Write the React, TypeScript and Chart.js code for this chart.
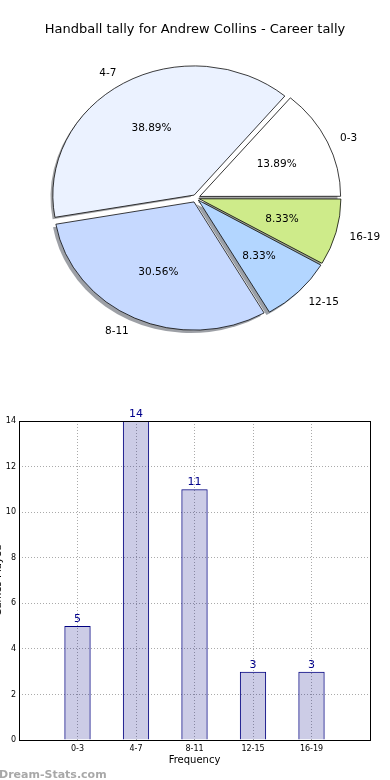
import React, { useEffect, useRef } from 'react';
import { Chart, registerables } from 'chart.js';

Chart.register(...registerables);

// ---- data ----
const categories = ['0-3', '4-7', '8-11', '12-15', '16-19'];
const tallies = [5, 14, 11, 3, 3];
const pieColors = ['#ffffff', '#ebf2ff', '#c6d9ff', '#b3d6ff', '#ceeb8a'];
const yTickMax = 14;
const yTickStep = 2;
const titleText = 'Handball tally for Andrew Collins - Career tally';
const xTitle = 'Frequency';
const yTitle = 'Games Played';
const watermark = 'Dream-Stats.com';

const FONT = '"DejaVu Sans", "Liberation Sans", sans-serif';
const SY = 0.914; // vertical squash of the pie (matplotlib axes aspect)
const EXPLODE = 5; // px
const PIE_R = 140;

function hexToRgb(h: string) {
  const n = parseInt(h.slice(1), 16);
  return [(n >> 16) & 255, (n >> 8) & 255, n & 255];
}

function PieChart() {
  const ref = useRef<HTMLCanvasElement | null>(null);
  useEffect(() => {
    if (!ref.current) return;
    const total = tallies.reduce((a, b) => a + b, 0);
    // Chart.js goes clockwise, matplotlib counter-clockwise -> reverse order
    const order = categories.map((_, i) => categories.length - 1 - i);
    const vals = order.map((i) => tallies[i]);
    const cols = order.map((i) => pieColors[i]);
    const labs = order.map((i) => categories[i]);
    const offsets = vals.map((v) => {
      const circ = (v / total) * Math.PI * 2;
      const fix = 1 - Math.sin(Math.min(Math.PI, circ));
      return (4 * EXPLODE) / (1 + fix);
    });

    const squash = (ctx: CanvasRenderingContext2D, x: number, y: number) => {
      ctx.translate(x, y);
      ctx.scale(1, SY);
      ctx.translate(-x, -y);
    };

    const pieFx = {
      id: 'pieFx',
      beforeDatasetsDraw(chart: any) {
        const ctx = chart.ctx as CanvasRenderingContext2D;
        const els = chart.getDatasetMeta(0).data;
        const cx = els[0].x;
        const cy = els[0].y;
        // shadows
        ctx.save();
        ctx.translate(-3, 3);
        squash(ctx, cx, cy);
        els.forEach((el: any, i: number) => {
          const mid = (el.startAngle + el.endAngle) / 2;
          const ox = cx + Math.cos(mid) * EXPLODE;
          const oy = cy + Math.sin(mid) * EXPLODE;
          const [r, g, b] = hexToRgb(cols[i]);
          ctx.fillStyle = `rgba(${Math.round(r * 0.3)},${Math.round(g * 0.3)},${Math.round(b * 0.3)},0.5)`;
          ctx.beginPath();
          ctx.moveTo(ox, oy);
          ctx.arc(ox, oy, el.outerRadius, el.startAngle, el.endAngle);
          ctx.closePath();
          ctx.fill();
        });
        ctx.restore();
        ctx.save();
        squash(ctx, cx, cy);
      },
      afterDatasetsDraw(chart: any) {
        chart.ctx.restore();
      },
      afterDraw(chart: any) {
        const ctx = chart.ctx as CanvasRenderingContext2D;
        const els = chart.getDatasetMeta(0).data;
        ctx.save();
        ctx.fillStyle = '#000';
        ctx.font = `13px ${FONT}`;
        ctx.textAlign = 'center';
        ctx.textBaseline = 'middle';
        ctx.fillText(titleText, 195, 30);
        ctx.font = `10.5px ${FONT}`;
        els.forEach((el: any, i: number) => {
          const mid = (el.startAngle + el.endAngle) / 2;
          const c = Math.cos(mid);
          const s = Math.sin(mid);
          const R = el.outerRadius;
          const lx = el.x + c * (EXPLODE + 1.1 * R);
          const ly = el.y + s * (EXPLODE + 1.1 * R) * SY + 1.5;
          ctx.textAlign = c > 0 ? 'left' : 'right';
          ctx.fillText(labs[i], lx, ly);
          const px = el.x + c * (EXPLODE + 0.6 * R);
          const py = el.y + s * (EXPLODE + 0.6 * R) * SY + 0.5;
          ctx.textAlign = 'center';
          ctx.fillText(((vals[i] / total) * 100).toFixed(2) + '%', px, py);
        });
        ctx.restore();
      },
    };

    const chart = new Chart(ref.current, {
      type: 'pie',
      data: {
        labels: labs,
        datasets: [
          {
            data: vals,
            backgroundColor: cols,
            borderColor: '#000',
            borderWidth: 0.8,
            offset: offsets,
            hoverOffset: 0,
            radius: PIE_R,
          } as any,
        ],
      },
      options: {
        animation: false,
        responsive: false,
        devicePixelRatio: 1,
        events: [],
        rotation: 90,
        layout: { padding: { left: 2, top: 6, right: 0, bottom: 0 } },
        plugins: { legend: { display: false }, tooltip: { enabled: false } },
      } as any,
      plugins: [pieFx],
    });
    return () => chart.destroy();
  }, []);
  return <canvas ref={ref} width={390} height={390} style={{ position: 'absolute', left: 0, top: 0 }} />;
}

function BarChart() {
  const ref = useRef<HTMLCanvasElement | null>(null);
  useEffect(() => {
    if (!ref.current) return;
    const barFx = {
      id: 'barFx',
      afterDraw(chart: any) {
        const ctx = chart.ctx as CanvasRenderingContext2D;
        const { left, right, top, bottom } = chart.chartArea;
        ctx.save();
        ctx.strokeStyle = '#000';
        ctx.lineWidth = 1;
        ctx.strokeRect(left + 0.5, top + 0.5, right - left, bottom - top);
        // value labels
        ctx.fillStyle = '#00008b';
        ctx.font = `11px ${FONT}`;
        ctx.textAlign = 'center';
        ctx.textBaseline = 'alphabetic';
        chart.getDatasetMeta(0).data.forEach((el: any, i: number) => {
          ctx.fillText(String(tallies[i]), el.x, el.y - 4);
        });
        // x title
        ctx.fillStyle = '#000';
        ctx.font = `10px ${FONT}`;
        ctx.textBaseline = 'middle';
        ctx.fillText(xTitle, (left + right) / 2, 370);
        // y title (mostly cut by the canvas edge)
        ctx.save();
        ctx.translate(1, (top + bottom) / 2);
        ctx.rotate(-Math.PI / 2);
        ctx.textBaseline = 'alphabetic';
        ctx.fillText(yTitle, 0, 0);
        ctx.restore();
        // watermark
        ctx.fillStyle = '#a8a8a8';
        ctx.font = `bold 11px ${FONT}`;
        ctx.textAlign = 'left';
        ctx.fillText(watermark, -1, 385);
        ctx.restore();
      },
    };

    const chart = new Chart(ref.current, {
      type: 'bar',
      data: {
        datasets: [
          {
            data: categories.map((_, i) => ({ x: i, y: tallies[i] })),
            backgroundColor: 'rgba(0,0,128,0.2)',
            borderColor: '#000080',
            borderWidth: 1,
            barPercentage: 0.45,
            categoryPercentage: 1,
          },
        ],
      },
      options: {
        animation: false,
        responsive: false,
        devicePixelRatio: 1,
        events: [],
        layout: { padding: { top: 31, right: 20, left: 0, bottom: 0 } },
        plugins: { legend: { display: false }, tooltip: { enabled: false } },
        scales: {
          x: {
            type: 'linear',
            min: -1,
            max: categories.length,
            offset: false,
            afterFit(s: any) {
              s.height = 40;
            },
            afterBuildTicks(s: any) {
              s.ticks = categories.map((_, i) => ({ value: i }));
            },
            ticks: {
              autoSkip: false,
              maxRotation: 0,
              padding: 4,
              color: '#000',
              font: { family: FONT, size: 8 },
              callback: (v: any) => categories[v] ?? '',
            },
            grid: { color: '#aaaaaa', drawTicks: false, lineWidth: 1, offset: false },
            border: { display: false, dash: [1, 2] },
          },
          y: {
            min: 0,
            max: yTickMax,
            afterFit(s: any) {
              s.width = 19;
            },
            ticks: {
              stepSize: yTickStep,
              padding: 3,
              color: '#000',
              font: { family: FONT, size: 8 },
            },
            grid: { color: '#aaaaaa', drawTicks: false, lineWidth: 1 },
            border: { display: false, dash: [1, 2] },
          },
        },
      } as any,
      plugins: [barFx],
    });
    return () => chart.destroy();
  }, []);
  return <canvas ref={ref} width={390} height={390} style={{ position: 'absolute', left: 0, top: 390 }} />;
}

export default function App() {
  return (
    <div style={{ position: 'absolute', left: 0, top: 0, width: 390, height: 780, background: '#fff', overflow: 'hidden' }}>
      <PieChart />
      <BarChart />
    </div>
  );
}
